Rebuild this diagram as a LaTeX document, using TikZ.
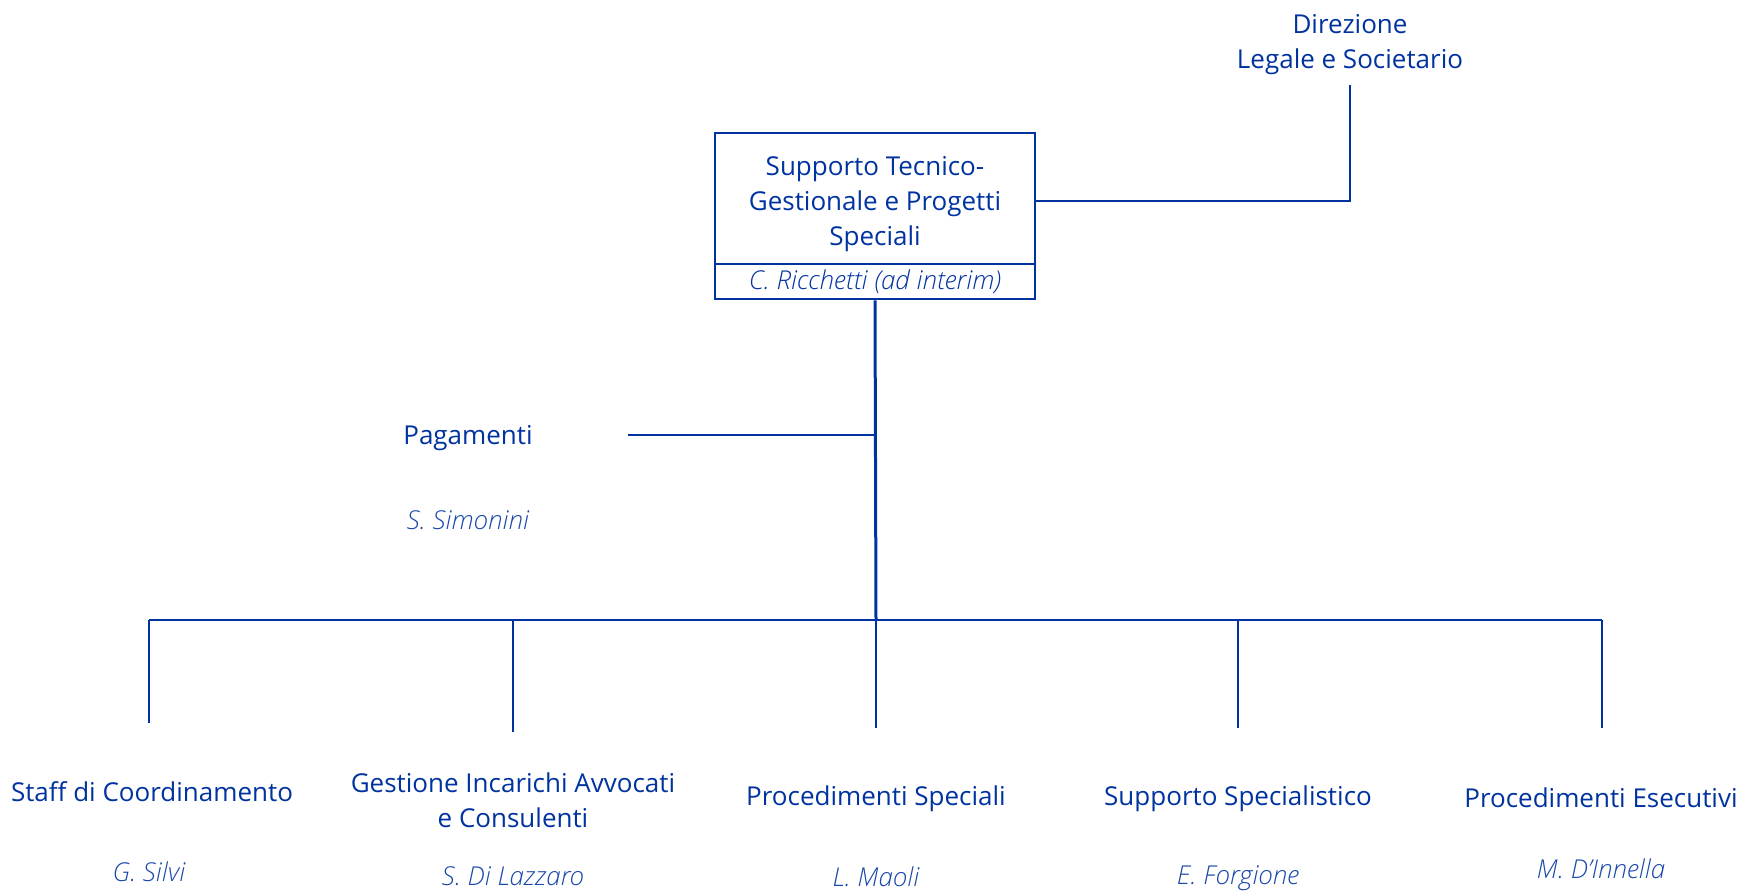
\documentclass[tikz,border=0pt]{standalone}
\usepackage{fontspec}
\setmainfont{Open Sans}
\IfFontExistsTF{Open Sans Light Italic}{\newfontfamily\nameit{Open Sans Light Italic}}{\newcommand\nameit{\itshape}}
\definecolor{orgblue}{RGB}{0,51,160}
\begin{document}
\begin{tikzpicture}[x=1pt,y=-1pt,
  line/.style={draw=orgblue,line width=2.6pt},
  unit/.style={text=orgblue,font=\fontsize{26}{35}\selectfont,align=center,inner sep=0pt},
  person/.style={text=orgblue!90,font=\fontsize{26}{35}\selectfont\nameit,align=center,inner sep=0pt},
  boxpart/.style={draw=orgblue,line width=2.6pt,minimum width=320pt,inner sep=0pt,text=orgblue,align=center}]
\useasboundingbox (0,0) rectangle (1741,892);
% main box
\node[boxpart,minimum height=131pt] (st) at (875,198.5) {};
\node[unit] (stt) at (875,204.5) {Supporto Tecnico-\\Gestionale e Progetti\\Speciali};
\node[boxpart,minimum height=35pt,font=\fontsize{26}{35}\selectfont\nameit] (stb) at (875,281.5) {C. Ricchetti (ad interim)};
% direzione
\node[unit] (dir) at (1350,45) {Direzione\\Legale e Societario};
\coordinate (dirend) at (1350,85);
\coordinate (stR) at (1035,201);
\draw[line] (stR) -| (dirend);
% pagamenti
\node[unit] (pag) at (468,438) {Pagamenti};
\node[person] (sim) at (468,520) {S. Simonini};
\coordinate (pagl) at (628,435);
\coordinate (pagr) at (876,435);
% trunk and bus
\coordinate (trunk) at (876,620);
\draw[line,line width=3pt] (stb.south) -- (trunk);
\draw[line] (pagl) -- (pagr);
\coordinate (bl) at (149,620);
\coordinate (br) at (1602,620);
\draw[line] (bl) -- (br);
\coordinate (d1) at (149,723);
\coordinate (d2) at (513,732);
\coordinate (d3) at (876,728);
\coordinate (d4) at (1238,728);
\coordinate (d5) at (1602,728);
\coordinate (t2) at (513,620);
\coordinate (t4) at (1238,620);
\draw[line] (bl) -- (d1);
\draw[line] (t2) -- (d2);
\draw[line] (trunk) -- (d3);
\draw[line] (t4) -- (d4);
\draw[line] (br) -- (d5);
% bottom units
\node[unit] (b1) at (152,792) {Staff di Coordinamento};
\node[person] (n1) at (149,872) {G. Silvi};
\node[unit] (b2) at (513,800) {Gestione Incarichi Avvocati\\e Consulenti};
\node[person] (n2) at (513,876) {S. Di Lazzaro};
\node[unit] (b3) at (876,799) {Procedimenti Speciali};
\node[person] (n3) at (876,877) {L. Maoli};
\node[unit] (b4) at (1238,799) {Supporto Specialistico};
\node[person] (n4) at (1238,878) {E. Forgione};
\node[unit] (b5) at (1601,798) {Procedimenti Esecutivi};
\node[person] (n5) at (1601,869) {M. D’Innella};
\end{tikzpicture}
\end{document}
